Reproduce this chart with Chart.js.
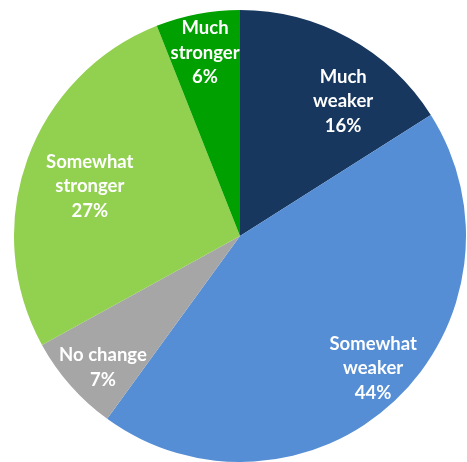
<!DOCTYPE html>
<html>
<head>
<meta charset="utf-8">
<script src="https://cdn.jsdelivr.net/npm/chart.js@4"></script>
<style>
  html, body { margin: 0; padding: 0; background: #fff; }
  #wrap { width: 467px; height: 462px; }
</style>
</head>
<body>
<div id="wrap"><canvas id="myChart" width="467" height="462"></canvas></div>
<script>
// categories and shares (percent), clockwise from 12 o'clock
var categories = [["Much", "weaker"], ["Somewhat", "weaker"], ["No change"], ["Somewhat", "stronger"], ["Much", "stronger"]];
var shares = [16, 44, 7, 27, 6];
var colors = ["#17375E", "#558ED5", "#A6A6A6", "#92D050", "#00A000"];

// label placement: fraction of radius, angle shift (deg) from slice middle
var labelRadius = [0.75, 0.83, 0.84, 0.70, 0.825];
var labelShift = [8.7, -2, -2.4, -1.5, 0];

var labelPlugin = {
    id: "sliceLabels",
    afterDatasetsDraw: function (chart) {
        var ctx = chart.ctx;
        var meta = chart.getDatasetMeta(0);
        ctx.save();
        ctx.fillStyle = "#fff";
        ctx.font = "bold 18.5px Lato, 'Open Sans', sans-serif";
        ctx.textAlign = "center";
        ctx.textBaseline = "middle";
        meta.data.forEach(function (arc, i) {
            var p = arc.getProps(["x", "y", "startAngle", "endAngle", "outerRadius"], true);
            var a = (p.startAngle + p.endAngle) / 2 + labelShift[i] * Math.PI / 180;
            var r = p.outerRadius * labelRadius[i];
            var cx = p.x + Math.cos(a) * r;
            var cy = p.y + Math.sin(a) * r;
            var lines = categories[i].concat([shares[i] + "%"]);
            var lh = 24.5;
            var top = cy - (lines.length - 1) * lh / 2;
            lines.forEach(function (t, k) {
                ctx.fillText(t, cx, top + k * lh);
            });
        });
        ctx.restore();
    }
};

var ctx = document.getElementById("myChart").getContext("2d");
var pie = new Chart(ctx, {
    type: "pie",
    data: {
        labels: categories.map(function (c) { return c.join(" "); }),
        datasets: [{
            data: shares,
            backgroundColor: colors,
            borderWidth: 0
        }]
    },
    options: {
        responsive: false,
        animation: false,
        layout: { padding: { left: 14, right: 1, top: 10, bottom: 0 } },
        plugins: {
            legend: { display: false },
            tooltip: { enabled: false }
        }
    },
    plugins: [labelPlugin]
});
</script>
</body>
</html>
